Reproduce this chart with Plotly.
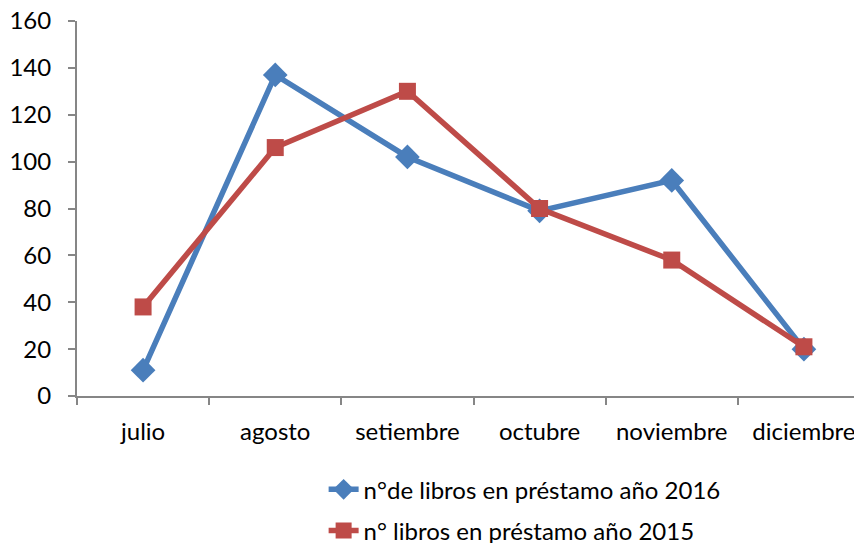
import plotly.graph_objects as go

meses = ["julio", "agosto", "setiembre", "octubre", "noviembre", "diciembre"]
prestamo_2016 = [11, 137, 102, 79, 92, 20]
prestamo_2015 = [38, 106, 130, 80, 58, 21]
nombre_2016 = "n°de libros en préstamo año 2016"
nombre_2015 = "n° libros en préstamo año 2015"
y_ticks = [0, 20, 40, 60, 80, 100, 120, 140, 160]

FONT = "Lato, Carlito, Calibri, sans-serif"
FS = 24

fig = go.Figure()
fig.add_trace(go.Scatter(
    x=meses, y=prestamo_2016, name=nombre_2016, mode="lines+markers",
    line=dict(color="#4A7EBB", width=5.5),
    marker=dict(symbol="diamond", size=19, color="#4A7EBB"),
    legendgroup="a",
))
fig.add_trace(go.Scatter(
    x=meses, y=prestamo_2015, name=nombre_2015, mode="lines+markers",
    line=dict(color="#BE4B48", width=5.5),
    marker=dict(symbol="square", size=17, color="#BE4B48"),
    legendgroup="b",
))

fig.update_layout(
    width=862, height=543,
    margin=dict(l=69, r=0, t=13, b=155, autoexpand=False),
    paper_bgcolor="white", plot_bgcolor="white",
    font=dict(family=FONT, size=FS, color="#000000"),
    showlegend=True,
    legend=dict(
        x=0.311, y=-0.19, xanchor="left", yanchor="top",
        traceorder="grouped", tracegroupgap=7,
        font=dict(family=FONT, size=FS, color="#000000"),
        bgcolor="rgba(0,0,0,0)",
    ),
)
fig.update_xaxes(
    type="category", range=[-0.5, 5.5], automargin=False,
    showline=True, linecolor="#868686", linewidth=2,
    ticks="outside", tickson="boundaries", ticklen=7, tickwidth=2, tickcolor="#868686",
    ticklabelstandoff=13, ticklabeloverflow="allow",
    showgrid=False, zeroline=False,
    tickfont=dict(family=FONT, size=FS, color="#000000"),
)
fig.update_yaxes(
    range=[0, 160], tickvals=y_ticks, automargin=False,
    showline=True, linecolor="#868686", linewidth=2,
    ticks="outside", ticklen=7, tickwidth=2, tickcolor="#868686",
    ticklabelstandoff=12, ticklabeloverflow="allow",
    showgrid=False, zeroline=False,
    tickfont=dict(family=FONT, size=FS, color="#000000"),
)

fig.write_html("out.html")
